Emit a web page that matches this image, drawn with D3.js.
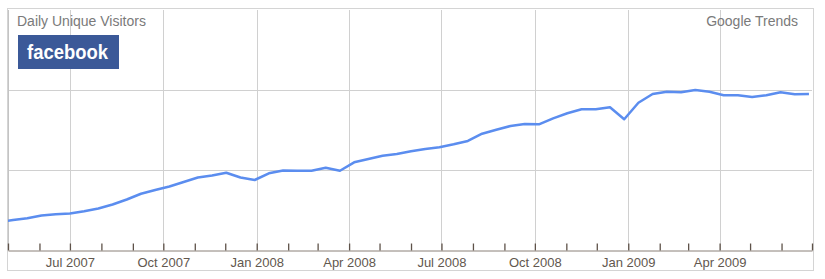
<!DOCTYPE html>
<html>
<head>
<meta charset="utf-8">
<script src="https://cdn.jsdelivr.net/npm/d3@7"></script>
<style>
  body { margin: 0; background: #fff; }
  text { font-family: "Liberation Sans", Arial, sans-serif; }
</style>
</head>
<body>
<svg width="825" height="279"></svg>
<script>
// biweekly samples (week starting dates)
var weeks = ["2007-04-22","2007-05-06","2007-05-20","2007-06-03","2007-06-17","2007-07-01","2007-07-15","2007-07-29",
  "2007-08-12","2007-08-26","2007-09-09","2007-09-23","2007-10-07","2007-10-21","2007-11-04","2007-11-18",
  "2007-12-02","2007-12-16","2007-12-30","2008-01-13","2008-01-27","2008-02-10","2008-02-24","2008-03-09",
  "2008-03-23","2008-04-06","2008-04-20","2008-05-04","2008-05-18","2008-06-01","2008-06-15","2008-06-29",
  "2008-07-13","2008-07-27","2008-08-10","2008-08-24","2008-09-07","2008-09-21","2008-10-05","2008-10-19",
  "2008-11-02","2008-11-16","2008-11-30","2008-12-14","2008-12-28","2009-01-11","2009-01-25","2009-02-08",
  "2009-02-22","2009-03-08","2009-03-22","2009-04-05","2009-04-19","2009-05-03","2009-05-17","2009-05-31",
  "2009-06-14","2009-06-28"];

// daily unique visitors (relative units, scale is hidden on the chart)
var visitors = [3.5, 3.75, 3.96, 4.31, 4.46, 4.55, 4.84, 5.19,
  5.69, 6.31, 7.03, 7.5, 7.94, 8.5, 9.06, 9.31,
  9.66, 9.06, 8.75, 9.59, 9.95, 9.91, 9.91, 10.29,
  9.91, 10.96, 11.38, 11.79, 12.0, 12.34, 12.63, 12.85,
  13.21, 13.63, 14.54, 15.04, 15.5, 15.75, 15.71, 16.46,
  17.09, 17.59, 17.59, 17.84, 16.34, 18.41, 19.5, 19.79,
  19.71, 20.0, 19.79, 19.34, 19.34, 19.13, 19.34, 19.71,
  19.46, 19.5];

var yGrid = [10, 20];
var xRange = ["2007-05-01", "2009-07-01"];

var svg = d3.select("svg");
var parse = d3.timeParse("%Y-%m-%d");

// plot box (note: "top" is reserved on window, so use plotTop)
var plotLeft = 8, plotRight = 812, plotTop = 10, plotBottom = 250;

var x = d3.scaleTime()
    .domain(xRange.map(parse))
    .range([plotLeft, plotRight]);

var y = d3.scaleLinear()
    .domain([0, 30])
    .range([plotBottom, plotTop]);

var data = weeks.map(function(w, i) { return {date: parse(w), value: visitors[i]}; });

// outer frame
svg.append("rect")
    .attr("x", 7.5).attr("y", 8.5)
    .attr("width", 806).attr("height", 262)
    .attr("fill", "none")
    .attr("stroke", "#d4d4d4");

// horizontal grid
svg.selectAll(".hgrid")
    .data(yGrid)
  .enter().append("line")
    .attr("x1", plotLeft).attr("x2", plotRight)
    .attr("y1", function(d) { return Math.round(y(d)) + 0.5; })
    .attr("y2", function(d) { return Math.round(y(d)) + 0.5; })
    .attr("stroke", "#d0d0d0");

// vertical grid at quarters
var quarters = d3.timeMonth.range(x.domain()[0], x.domain()[1]).filter(function(d) { return d.getMonth() % 3 == 0; });
svg.selectAll(".vgrid")
    .data(quarters)
  .enter().append("line")
    .attr("x1", function(d) { return Math.round(x(d)) + 0.5; })
    .attr("x2", function(d) { return Math.round(x(d)) + 0.5; })
    .attr("y1", plotTop).attr("y2", plotBottom)
    .attr("stroke", "#d0d0d0");

// left edge of plot
svg.append("line")
    .attr("x1", plotLeft + 0.5).attr("x2", plotLeft + 0.5)
    .attr("y1", plotTop).attr("y2", plotBottom)
    .attr("stroke", "#c4c4c4");

// the line
svg.append("clipPath").attr("id", "clip")
  .append("rect")
    .attr("x", plotLeft).attr("y", plotTop)
    .attr("width", plotRight - plotLeft).attr("height", plotBottom - plotTop);

var line = d3.line()
    .x(function(d) { return x(d.date); })
    .y(function(d) { return y(d.value); });

svg.append("path")
    .datum(data)
    .attr("clip-path", "url(#clip)")
    .attr("d", line)
    .attr("fill", "none")
    .attr("stroke", "#5b8def")
    .attr("stroke-width", 2.5)
    .attr("stroke-linejoin", "round");

// x axis: monthly ticks, labels on quarters (not at the right edge)
var end = x.domain()[1];
var xAxis = d3.axisBottom(x)
    .ticks(d3.timeMonth.every(1))
    .tickSizeInner(-7)
    .tickSizeOuter(0)
    .tickFormat(function(d) {
      return (d.getMonth() % 3 == 0 && d < end) ? d3.timeFormat("%b %Y")(d) : "";
    });

var gx = svg.append("g")
    .attr("transform", "translate(0," + (plotBottom + 0.5) + ")")
    .call(xAxis);

gx.select(".domain").attr("stroke", "#8a8078").attr("stroke-width", 1);
gx.selectAll(".tick line").attr("stroke", "#5e5249").attr("stroke-width", 1.3);
gx.selectAll(".tick text")
    .attr("y", 7)
    .attr("fill", "#62574e")
    .style("font-size", "13px");

// titles
svg.append("text")
    .attr("x", 17).attr("y", 26)
    .attr("fill", "#7a7a7a")
    .style("font-size", "14px")
    .text("Daily Unique Visitors");

svg.append("text")
    .attr("x", 798).attr("y", 26)
    .attr("text-anchor", "end")
    .attr("fill", "#7a7a7a")
    .style("font-size", "14px")
    .text("Google Trends");

// facebook logo
svg.append("rect")
    .attr("x", 18).attr("y", 35)
    .attr("width", 101).attr("height", 34)
    .attr("fill", "#3b5998");

svg.append("text")
    .attr("x", 27).attr("y", 59)
    .attr("fill", "#fff")
    .attr("textLength", 81)
    .attr("lengthAdjust", "spacingAndGlyphs")
    .style("font-size", "21px")
    .style("font-weight", "bold")
    .text("facebook");
</script>
</body>
</html>
